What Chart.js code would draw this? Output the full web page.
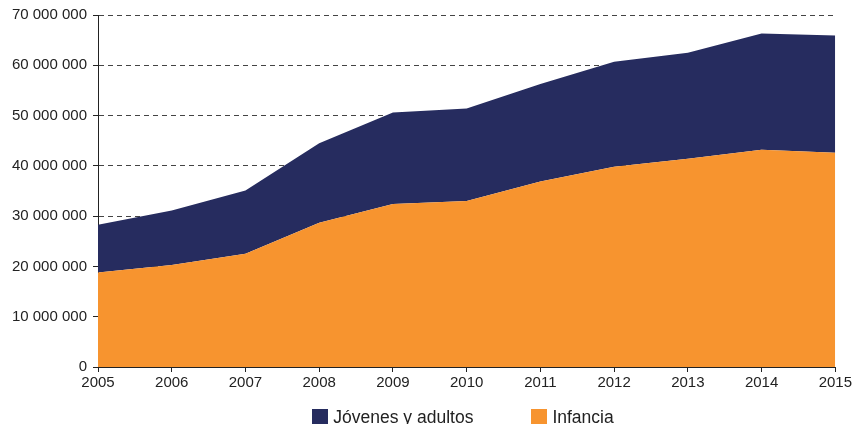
<!DOCTYPE html>
<html>
<head>
<meta charset="utf-8">
<script src="https://cdn.jsdelivr.net/npm/chart.js@4"></script>
<style>
  html, body { margin: 0; padding: 0; background: #fff; }
  #wrap { position: relative; width: 854px; height: 424px; overflow: hidden; }
  #legend {
    position: absolute; left: 72px; width: 782px; top: 407px;
    display: flex; justify-content: center; gap: 58px;
    font-family: "Liberation Sans", Arial, sans-serif; font-size: 17.5px; color: #222;
  }
  .item { display: flex; align-items: center; height: 20px; line-height: 20px; white-space: nowrap; }
  .box { width: 16px; height: 16px; margin-right: 5px; }
</style>
</head>
<body>
<div id="wrap">
  <canvas id="chart" width="854" height="424"></canvas>
  <div id="legend"></div>
</div>
<script>
const years = ['2005', '2006', '2007', '2008', '2009', '2010', '2011', '2012', '2013', '2014', '2015'];
const infancia = [18800000, 20300000, 22500000, 28700000, 32400000, 33000000, 36900000, 39800000, 41400000, 43200000, 42600000];
const jovenes = [9500000, 10800000, 12600000, 15800000, 18200000, 18400000, 19400000, 20900000, 21100000, 23100000, 23300000];
const yTicks = [0, 10000000, 20000000, 30000000, 40000000, 50000000, 60000000, 70000000];

const NAVY = '#262c5f';
const ORANGE = '#f7942f';
const FONT = '"Liberation Sans", Arial, sans-serif';

function fmt(v) {
  return String(v).replace(/\B(?=(\d{3})+(?!\d))/g, ' ');
}

const ctx = document.getElementById('chart').getContext('2d');
const chart = new Chart(ctx, {
  type: 'line',
  data: {
    labels: years,
    datasets: [
      {
        label: 'Infancia',
        data: infancia,
        backgroundColor: ORANGE,
        borderColor: ORANGE,
        borderWidth: 0,
        pointRadius: 0,
        fill: 'origin'
      },
      {
        label: 'Jóvenes y adultos',
        data: jovenes,
        backgroundColor: NAVY,
        borderColor: NAVY,
        borderWidth: 0,
        pointRadius: 0,
        fill: '-1'
      }
    ]
  },
  options: {
    responsive: false,
    animation: false,
    layout: { padding: { top: 15, right: 0, bottom: 30, left: 0 } },
    plugins: {
      legend: { display: false },
      tooltip: { enabled: false }
    },
    scales: {
      x: {
        offset: false,
        grid: { drawOnChartArea: false, tickLength: 5, tickColor: '#222' },
        border: { color: '#222', width: 1 },
        ticks: { color: '#222', font: { family: FONT, size: 15 }, padding: 2, maxRotation: 0, autoSkip: false }
      },
      y: {
        stacked: true,
        min: 0,
        max: 70000000,
        afterBuildTicks: scale => { scale.ticks = yTicks.map(v => ({ value: v })); },
        afterFit: scale => { scale.width = 98; },
        grid: { color: '#444', tickLength: 5, tickColor: '#222' },
        border: { color: '#222', width: 1, dash: [5, 4] },
        ticks: { color: '#222', font: { family: FONT, size: 15 }, padding: 6, callback: v => fmt(v) }
      }
    }
  }
});

// legend: Jóvenes first, as in the original
const legend = document.getElementById('legend');
chart.data.datasets.slice().reverse().forEach(ds => {
  const item = document.createElement('div');
  item.className = 'item';
  const box = document.createElement('span');
  box.className = 'box';
  box.style.background = ds.backgroundColor;
  const txt = document.createElement('span');
  txt.textContent = ds.label;
  item.appendChild(box);
  item.appendChild(txt);
  legend.appendChild(item);
});
</script>
</body>
</html>
